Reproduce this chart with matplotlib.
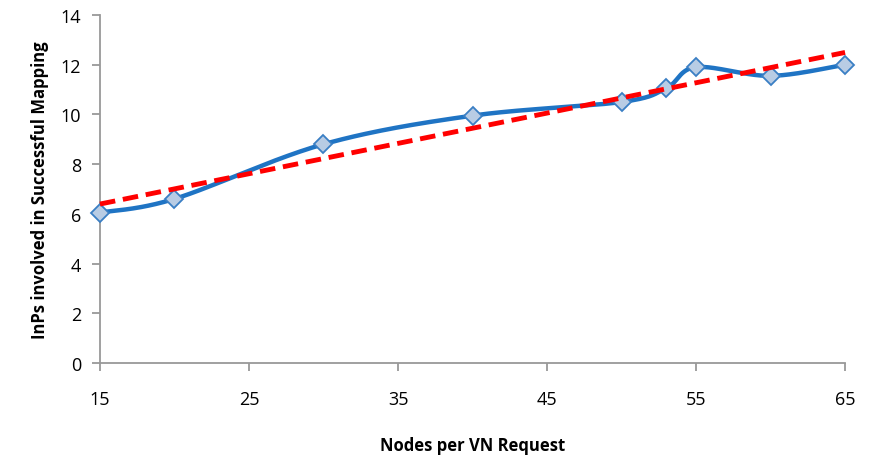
import numpy as np
import matplotlib
matplotlib.use("Agg")
import matplotlib.pyplot as plt

nodes = [15, 20, 30, 40, 50, 53, 55, 60, 65]
inps = [6.05, 6.6, 8.8, 9.95, 10.5, 11.05, 11.9, 11.55, 12.0]
xticks = [15, 25, 35, 45, 55, 65]
yticks = [0, 2, 4, 6, 8, 10, 12, 14]

def smooth(xs, ys, n=40):
    P = np.column_stack([xs, ys]).astype(float)
    m = len(P)
    out = []
    for i in range(m - 1):
        p0 = P[i - 1] if i > 0 else P[i]
        p1 = P[i]
        p2 = P[i + 1]
        p3 = P[i + 2] if i + 2 < m else P[i + 1]
        c1 = p1 + (p2 - p0) / 6.0
        c2 = p2 - (p3 - p1) / 6.0
        t = np.linspace(0, 1, n)[:, None]
        seg = (1 - t) ** 3 * p1 + 3 * (1 - t) ** 2 * t * c1 + 3 * (1 - t) * t ** 2 * c2 + t ** 3 * p2
        out.append(seg if i == 0 else seg[1:])
    S = np.vstack(out)
    return S[:, 0], S[:, 1]

plt.rcParams['font.family'] = ['Open Sans', 'DejaVu Sans']
fig = plt.figure(figsize=(8.73, 4.56), dpi=100)
ax = fig.add_axes([0.1145, 0.2018, 0.8535, 0.7632])

sx, sy = smooth(nodes, inps)
ax.plot(sx, sy, color='#1F74C4', lw=3.2, solid_capstyle='round', zorder=2)
ax.plot(nodes, inps, ls='none', marker='D', ms=9.5, mfc='#B8CCE4', mec='#3A7FC4', mew=1.3, zorder=3)

a, b = np.polyfit(nodes, inps, 1)
tx = np.array([min(nodes), max(nodes)])
ax.plot(tx, a * tx + b, color='#FF0000', lw=3.5, ls=(0, (3.2, 1.6)), zorder=4)

ax.set_xlim(15, 65)
ax.set_ylim(0, 14)
ax.set_xticks(xticks)
ax.set_yticks(yticks)
for s in ['top', 'right']:
    ax.spines[s].set_visible(False)
for s in ['left', 'bottom']:
    ax.spines[s].set_color('#999999')
    ax.spines[s].set_linewidth(1.3)
ax.tick_params(axis='both', colors='#999999', width=1.3, length=5.5, labelcolor='black', labelsize=13)
ax.tick_params(axis='y', pad=8)
ax.tick_params(axis='x', pad=14)
ax.set_xlabel('Nodes per VN Request', fontsize=12, fontweight='bold', labelpad=20)
ax.set_ylabel('InPs involved in Successful Mapping', fontsize=12, fontweight='bold', labelpad=8)
ax.patch.set_alpha(0)
for l in ax.lines:
    l.set_clip_on(False)

fig.savefig('out.png', dpi=100)
